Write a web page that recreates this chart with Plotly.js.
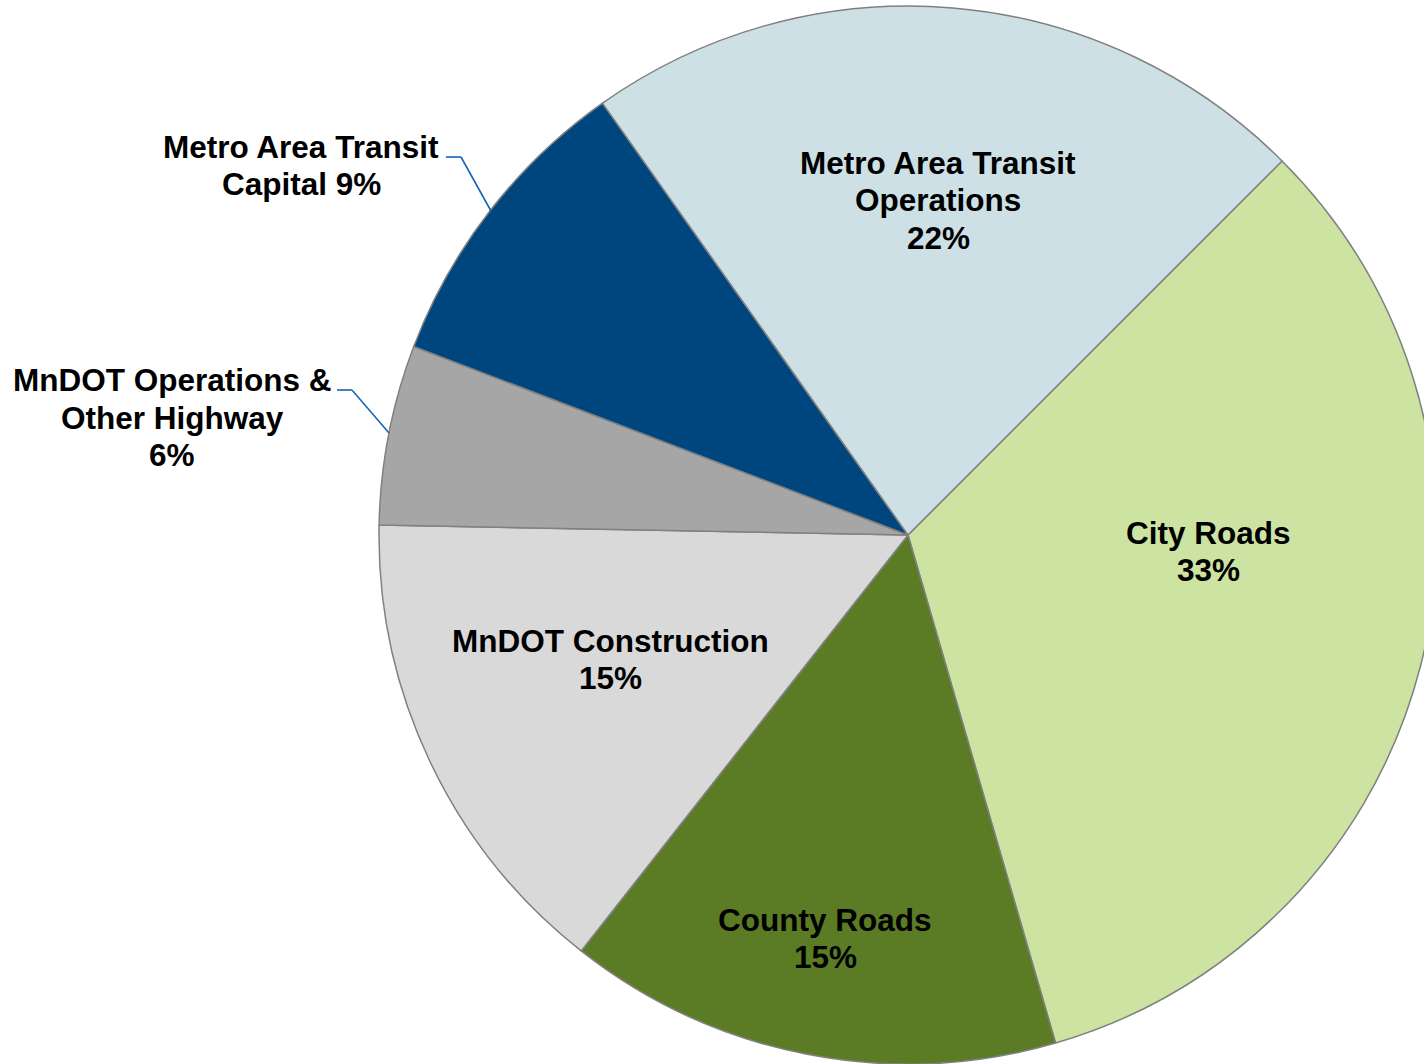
<!DOCTYPE html>
<html>
<head>
<meta charset="utf-8">
<script src="https://cdn.plot.ly/plotly-3.0.1.min.js"></script>
<style>
html,body{margin:0;padding:0;overflow:hidden;background:#fff;width:1424px;height:1064px;}
#chart{width:1500px;height:1064px;}
</style>
</head>
<body>
<div id="chart"></div>
<script>
const categories = ["City Roads", "County Roads", "MnDOT Construction", "MnDOT Operations & Other Highway", "Metro Area Transit Capital", "Metro Area Transit Operations"];
const shares = [33.0, 15.1, 14.7, 5.5, 9.4, 22.3];
const labelTexts = ["City Roads<br>33%", "County Roads<br>15%", "MnDOT Construction<br>15%", "MnDOT Operations &<br>Other Highway<br>6%", "Metro Area Transit<br>Capital 9%", "Metro Area Transit<br>Operations<br>22%"];
const colors = ["#CDE3A2", "#5B7B24", "#D9D9D9", "#A6A6A6", "#00467E", "#CCE0E5"];

const W = 1500, H = 1064;
const px = x => x / W, py = y => 1 - y / H;
// label block centres (pixels)
const labelPos = [[1208, 551.5], [825, 938.5], [610, 659.5], [172, 417.5], [301, 165.5], [938, 200.5]];
const LINE = 37.3;

const annotations = [];
labelTexts.forEach((t, i) => {
  const lines = t.split("<br>");
  lines.forEach((ln, k) => {
    const yc = labelPos[i][1] + (k - (lines.length - 1) / 2) * LINE;
    annotations.push({
      text: "<b>" + ln + "</b>", xref: "paper", yref: "paper",
      x: px(labelPos[i][0]), y: py(yc), xanchor: "center", yanchor: "middle",
      showarrow: false, align: "center",
      font: {family: "Liberation Sans, Arial, sans-serif", size: 31.5, color: "#000"}
    });
  });
});

const leader = (pts) => pts.slice(1).map((p, k) => ({
  type: "line", xref: "paper", yref: "paper",
  x0: px(pts[k][0]), y0: py(pts[k][1]), x1: px(p[0]), y1: py(p[1]),
  line: {color: "#1666B8", width: 1.6}
}));
const shapes = [
  ...leader([[446, 157], [461, 157], [491, 211]]),
  ...leader([[337, 390], [352, 390], [389, 433]])
];

Plotly.newPlot("chart", [{
  type: "pie", labels: categories, values: shares, sort: false,
  direction: "clockwise", rotation: 45,
  marker: {colors: colors, line: {color: "#808080", width: 1.5}},
  textinfo: "none", hoverinfo: "label+percent",
  domain: {x: [379 / W, 1437 / W], y: [0, 1058 / H]}
}], {
  width: W, height: H, margin: {l: 0, r: 0, t: 0, b: 0},
  showlegend: false, paper_bgcolor: "#fff",
  annotations: annotations, shapes: shapes
}, {displayModeBar: false, staticPlot: true});
</script>
</body>
</html>
